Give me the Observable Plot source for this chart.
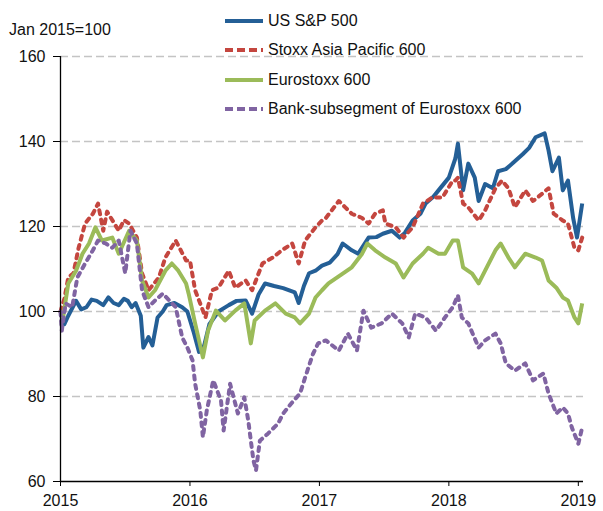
<!DOCTYPE html>
<html>
<head>
<meta charset="utf-8">
<script src="https://cdn.jsdelivr.net/npm/d3@7"></script>
<script src="https://cdn.jsdelivr.net/npm/@observablehq/plot@0.6"></script>
<style>
  html, body { margin: 0; padding: 0; background: #fff; }
  #wrap { position: relative; width: 603px; height: 511px; font-family: "Liberation Sans", Arial, sans-serif; }
  #unit { position: absolute; left: 9px; top: 21px; font-size: 16px; color: #111; }
  #legend { position: absolute; left: 225px; top: 6px; font-size: 16px; color: #111; }
  .row { display: flex; align-items: center; height: 29.5px; }
  .row svg { margin-right: 5px; }
</style>
</head>
<body>
<div id="wrap">
  <div id="chart"></div>
  <div id="unit">Jan 2015=100</div>
  <div id="legend"></div>
</div>
<script>
// ---- Data ----
const seriesNames = ["US S&P 500", "Stoxx Asia Pacific 600", "Eurostoxx 600", "Bank-subsegment of Eurostoxx 600"];
const seriesColors = ["#245f96", "#c4463f", "#9bbb59", "#8064a2"];
const seriesDashed = [false, true, false, true];

const spxDates = [2015.00,2015.03,2015.06,2015.12,2015.16,2015.20,2015.24,2015.28,2015.33,2015.37,2015.41,2015.45,2015.49,2015.52,2015.55,2015.58,2015.62,2015.64,2015.68,2015.71,2015.75,2015.79,2015.82,2015.88,2015.94,2015.98,2016.03,2016.07,2016.11,2016.15,2016.22,2016.30,2016.36,2016.43,2016.48,2016.53,2016.58,2016.65,2016.72,2016.81,2016.84,2016.88,2016.92,2016.97,2017.02,2017.08,2017.14,2017.18,2017.25,2017.30,2017.38,2017.44,2017.49,2017.56,2017.62,2017.66,2017.72,2017.78,2017.82,2017.88,2017.92,2018.00,2018.05,2018.07,2018.09,2018.11,2018.15,2018.20,2018.23,2018.28,2018.34,2018.38,2018.44,2018.49,2018.57,2018.62,2018.67,2018.74,2018.77,2018.80,2018.85,2018.88,2018.92,2018.96,2018.99,2019.03];
const spxValues = [100,97,99,102.5,100.5,101,102.8,102.5,101.5,103.3,102,101.5,103,102.5,101,102,99,91.5,94,92,98.6,100,101.5,102,101,100,95,90.5,92,97,100,101.5,102.5,102.6,99.5,104,106.6,106,105.5,104.5,102,106,109,109.6,110.8,111.5,113.5,116,114.4,113.6,117.4,117.5,118.3,119,117.4,118.5,121.4,123,125.4,127,128.5,131.5,136,139.5,134,128.5,134.8,131.5,126,130,129,133,133.5,134.8,137,138.5,141,141.9,137.9,133,136.2,128.5,130.8,122,117.4,125.4];

const asiaDates = [2015.00,2015.03,2015.06,2015.10,2015.14,2015.19,2015.25,2015.29,2015.33,2015.36,2015.39,2015.45,2015.49,2015.53,2015.59,2015.63,2015.68,2015.76,2015.81,2015.89,2015.97,2016.00,2016.04,2016.10,2016.12,2016.17,2016.22,2016.30,2016.35,2016.43,2016.48,2016.56,2016.64,2016.71,2016.79,2016.84,2016.89,2016.97,2017.02,2017.05,2017.15,2017.20,2017.25,2017.33,2017.38,2017.43,2017.49,2017.51,2017.59,2017.65,2017.72,2017.80,2017.87,2017.95,2018.03,2018.05,2018.07,2018.11,2018.15,2018.23,2018.28,2018.36,2018.41,2018.46,2018.51,2018.59,2018.65,2018.72,2018.77,2018.81,2018.88,2018.92,2018.97,2019.00,2019.03];
const asiaValues = [100,103,108,109,115,120.7,123,125.4,119,123.5,122,119,121.5,120.7,117.4,109,105,108,112.7,116.7,112,112,105,100.2,98.6,105,105.6,109.6,105.6,107.3,105,111.3,112.7,114.4,116,111.3,116.7,119.8,121.4,122,126,124.5,123,122,120.7,123,123.8,120.7,119.8,117.4,119.8,125.4,126.8,126.8,130.8,130.8,131.5,125.4,124.5,121.4,123.8,129,130.8,129,124.5,128.5,126,127.7,129,123,121.4,120.7,115,114.4,117.4];

const euroDates = [2015.00,2015.02,2015.06,2015.12,2015.17,2015.22,2015.27,2015.32,2015.40,2015.45,2015.53,2015.59,2015.63,2015.68,2015.73,2015.81,2015.86,2015.91,2015.97,2015.99,2016.04,2016.10,2016.14,2016.20,2016.27,2016.35,2016.42,2016.47,2016.50,2016.58,2016.66,2016.74,2016.81,2016.85,2016.92,2016.97,2017.02,2017.07,2017.18,2017.25,2017.33,2017.37,2017.43,2017.51,2017.59,2017.65,2017.72,2017.80,2017.84,2017.92,2017.97,2018.03,2018.07,2018.11,2018.18,2018.23,2018.28,2018.36,2018.40,2018.46,2018.51,2018.59,2018.67,2018.72,2018.77,2018.83,2018.88,2018.92,2018.97,2019.00,2019.03];
const euroValues = [100,98.6,106.6,109.6,113.6,116,119.8,116.7,117.4,113.6,119,116.7,107.3,103.3,105,109.6,111.3,109.6,106.6,104.2,97.2,89.2,95.5,100.2,97.9,100.2,101.9,92.5,97.9,100.2,101.9,99.5,98.6,97.2,99.5,103.3,105,106.6,108.9,110.4,113.6,116,114.4,112.7,111.3,108,111.3,113.6,115,113.6,113.6,116.7,116.7,110.4,108.9,106.6,109.6,114.4,116,112.7,110.4,113.6,112.7,112,107.3,105.6,103.3,102.6,98.6,97.2,101.9];

const bankDates = [2015.00,2015.01,2015.04,2015.09,2015.13,2015.19,2015.25,2015.29,2015.35,2015.40,2015.45,2015.50,2015.54,2015.59,2015.63,2015.68,2015.73,2015.79,2015.84,2015.89,2015.94,2015.98,2016.02,2016.04,2016.08,2016.10,2016.13,2016.18,2016.24,2016.26,2016.31,2016.37,2016.42,2016.45,2016.49,2016.51,2016.54,2016.60,2016.68,2016.72,2016.80,2016.85,2016.89,2016.95,2016.99,2017.05,2017.15,2017.22,2017.29,2017.34,2017.40,2017.48,2017.56,2017.64,2017.69,2017.74,2017.82,2017.90,2017.97,2018.03,2018.07,2018.10,2018.15,2018.23,2018.28,2018.36,2018.40,2018.44,2018.51,2018.59,2018.65,2018.73,2018.77,2018.83,2018.88,2018.92,2018.95,2019.00,2019.03];
const bankValues = [100,95.5,101.9,101,108,111.3,114.4,116.7,116,115,116.7,109,119,116,105,101,102.6,104.2,102.6,101,93.9,91.5,88.5,83,76.7,70.4,76.7,83.8,79,72,83,76,79.8,74.4,65,62.6,69.6,71.2,73.6,76,79,80.7,84.5,90,92.5,93.2,90.8,94.8,90.8,100.2,96.2,97.2,99.5,97.2,93.9,99.5,98.6,95.5,98.6,101,103.8,98.6,97.2,91.5,93.2,94.8,92.5,87.8,86.1,87.8,83.8,85.4,80.7,76,77.4,76,72.7,68.9,72.7];

const xTicks = [2015, 2016, 2017, 2018, 2019];
const yTicks = [60, 80, 100, 120, 140, 160];

// ---- Build rows ----
const allDates = [spxDates, asiaDates, euroDates, bankDates];
const allValues = [spxValues, asiaValues, euroValues, bankValues];
const rows = seriesNames.flatMap((name, i) =>
  allDates[i].map((d, j) => ({series: name, date: d, value: allValues[i][j]})));

const lineMarks = seriesNames.map((name, i) =>
  Plot.line(rows.filter(r => r.series === name), {
    x: "date", y: "value",
    stroke: seriesColors[i],
    strokeWidth: 4,
    strokeLinejoin: "round",
    strokeLinecap: seriesDashed[i] ? "round" : "butt",
    strokeDasharray: seriesDashed[i] ? "4,5.5" : null
  }));

const chart = Plot.plot({
  width: 603,
  height: 511,
  marginLeft: 60,
  marginRight: 20,
  marginTop: 56,
  marginBottom: 30,
  style: {fontFamily: "'Liberation Sans', Arial, sans-serif", fontSize: "16px", color: "#111", background: "#fff"},
  x: {domain: [2015, 2019.04]},
  y: {domain: [60, 160]},
  marks: [
    Plot.gridY(yTicks.filter(t => t > 60), {stroke: "#c4c4c4", strokeOpacity: 1, strokeWidth: 1.3, strokeDasharray: "8,4"}),
    ...lineMarks,
    Plot.ruleX([2015], {stroke: "#000", strokeWidth: 1.3}),
    Plot.ruleY([60], {stroke: "#000", strokeWidth: 1.3}),
    Plot.axisX(xTicks, {tickSize: 5, tickPadding: 8, tickFormat: d => String(d), label: null, stroke: "#000", fill: "#111"}),
    Plot.axisY(yTicks, {tickSize: 7, tickPadding: 8, tickFormat: d => String(d), label: null, stroke: "#000", fill: "#111"})
  ]
});
document.getElementById("chart").appendChild(chart);

// ---- Legend ----
const legend = document.getElementById("legend");
seriesNames.forEach((name, i) => {
  const row = document.createElement("div");
  row.className = "row";
  const dash = seriesDashed[i] ? 'stroke-dasharray="8,4"' : '';
  row.innerHTML = `<svg width="38" height="8"><line x1="0" y1="4" x2="38" y2="4" stroke="${seriesColors[i]}" stroke-width="4" ${dash}/></svg><span>${name}</span>`;
  legend.appendChild(row);
});
</script>
</body>
</html>
